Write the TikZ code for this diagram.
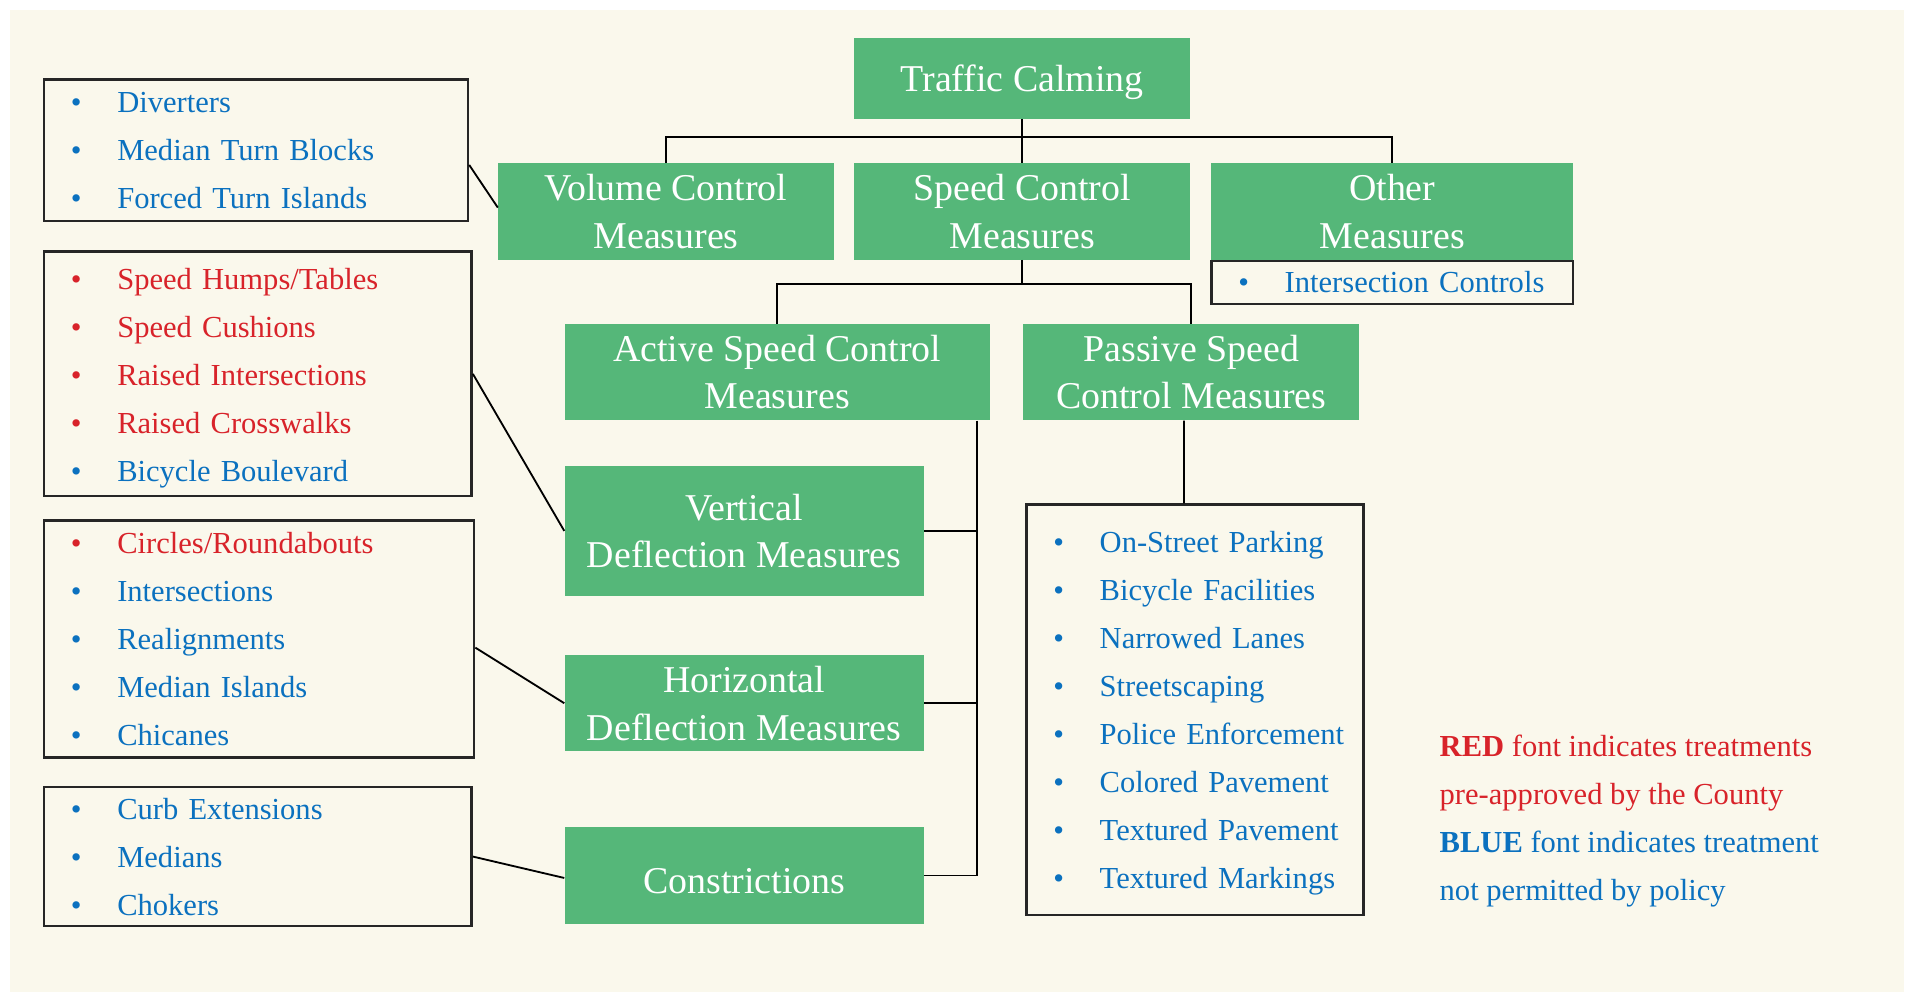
\documentclass[tikz,border=0pt]{standalone}
\usepackage{fontspec}
\setmainfont{Liberation Serif}
\usetikzlibrary{positioning,calc}
\definecolor{calmgreen}{HTML}{55B779}
\definecolor{paper}{HTML}{FAF8EC}
\definecolor{tcblue}{HTML}{0B71BF}
\definecolor{tcred}{HTML}{D8232A}
\definecolor{framegray}{HTML}{262626}
\tikzstyle{measure} = [rectangle, fill=calmgreen, text=white, align=center, font=\fontsize{31}{39}\selectfont, inner sep=0pt, execute at begin node=\rule{0pt}{29pt}]
\tikzstyle{listbox} = [rectangle, draw=framegray, line width=2pt, fill=paper, align=left, font=\fontsize{25}{39.3}\selectfont, inner sep=0pt, anchor=north west]
\tikzstyle{link} = [line width=1.5pt, black]
\newcommand{\itm}[2]{\hspace*{22pt}\textcolor{#1}{\makebox[38pt][l]{\textbullet}#2}}

\begin{document}
\begin{tikzpicture}[x=1pt, y=1pt, node distance=36pt]
  \useasboundingbox (0,0) rectangle (1568,-813);
  \fill[white] (0,0) rectangle (1568,-813);
  \fill[paper] (8,-8) rectangle (1558,-812);

  % top of the tree
  \node (traffic)[measure, minimum width=275, minimum height=66] at (836.5,-64) {Traffic Calming};
  \node (speed)[measure, minimum width=275, minimum height=79, below=36pt of traffic] {Speed Control\\Measures};
  \node (volume)[measure, minimum width=275, minimum height=79, left=16pt of speed] {Volume Control\\Measures};
  \node (other)[measure, minimum width=296, minimum height=79, right=17pt of speed] {Other\\Measures};
  \node (otherList)[listbox, anchor=north, text width=296, minimum height=35, below=0pt of other] {\itm{tcblue}{Intersection Controls}};

  \node (active)[measure, minimum width=348, minimum height=79] at (636,-304.5) {Active Speed Control\\Measures};
  \node (passive)[measure, minimum width=275, minimum height=79, right=27pt of active] {Passive Speed\\Control Measures};

  \node (vert)[measure, minimum width=294, minimum height=107] at (609,-434.5) {Vertical\\Deflection Measures};
  \node (horiz)[measure, minimum width=294, minimum height=79] at (609,-575.5) {Horizontal\\Deflection Measures};
  \node (constr)[measure, minimum width=294, minimum height=79] at (609,-716.5) {Constrictions};

  % lists of treatments
  \node (volList)[listbox, text width=347, minimum height=116] at (35,-64) {\itm{tcblue}{Diverters}\\\itm{tcblue}{Median Turn Blocks}\\\itm{tcblue}{Forced Turn Islands}};
  \node (vdefList)[listbox, text width=350, minimum height=200] at (35,-205) {\rule{0pt}{24pt}\itm{tcred}{Speed Humps/Tables}\\\itm{tcred}{Speed Cushions}\\\itm{tcred}{Raised Intersections}\\\itm{tcred}{Raised Crosswalks}\\\itm{tcblue}{Bicycle Boulevard}};
  \node (hdefList)[listbox, text width=352, minimum height=194] at (35,-425) {\itm{tcred}{Circles/Roundabouts}\\\itm{tcblue}{Intersections}\\\itm{tcblue}{Realignments}\\\itm{tcblue}{Median Islands}\\\itm{tcblue}{Chicanes}};
  \node (conList)[listbox, text width=350, minimum height=114] at (35,-643) {\itm{tcblue}{Curb Extensions}\\\itm{tcblue}{Medians}\\\itm{tcblue}{Chokers}};
  \node (passList)[listbox, text width=276, minimum height=336] at (839,-412) {\rule{0pt}{22pt}\itm{tcblue}{On-Street Parking}\\\itm{tcblue}{Bicycle Facilities}\\\itm{tcblue}{Narrowed Lanes}\\\itm{tcblue}{Streetscaping}\\\itm{tcblue}{Police Enforcement}\\\itm{tcblue}{Colored Pavement}\\\itm{tcblue}{Textured Pavement}\\\itm{tcblue}{Textured Markings}};

  \node (legend)[anchor=west, align=left, inner sep=0pt, font=\fontsize{25}{39.3}\selectfont] at (1178,-672) {\color{tcred}\textbf{RED} font indicates treatments\\\color{tcred}pre-approved by the County\\\color{tcblue}\textbf{BLUE} font indicates treatment\\\color{tcblue}not permitted by policy};

  % tree connectors
  \coordinate (busTop) at ($(traffic.south)+(0,-15)$);
  \draw[link] (traffic.south) -- (speed.north);
  \draw[link] (volume.north) |- (busTop) -| (other.north);
  \coordinate (busSpeed) at ($(speed.south)+(0,-20)$);
  \draw[link] (speed.south) -- (busSpeed);
  \draw[link] (active.north) |- (busSpeed) -| (passive.north);
  \coordinate (spine) at ($(active.south east)+(-11,0)$);
  \draw[link] (spine) |- (constr.east);
  \draw[link] (vert.east) -- (vert.east -| spine);
  \draw[link] (horiz.east) -- (horiz.east -| spine);
  \draw[link] ($(passive.south)+(-6,0)$) -- ($(passList.north)+(-9,0)$);

  % lists to measures
  \draw[link] ($(volList.east)+(0,-12)$) -- ($(volume.west)+(0,3)$);
  \draw[link] (vdefList.east) -- (vert.west);
  \draw[link] ($(hdefList.east)+(0,-7)$) -- (horiz.west);
  \draw[link] (conList.east) -- ($(constr.west)+(0,-2)$);
\end{tikzpicture}
\end{document}
